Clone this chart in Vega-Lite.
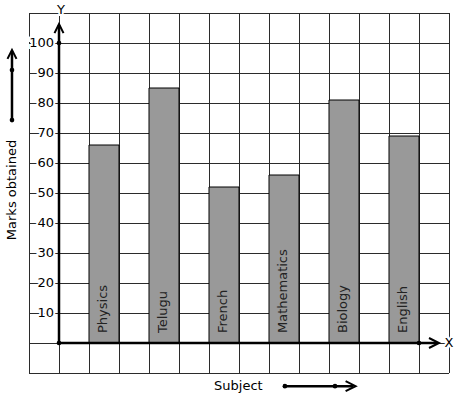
{
  "$schema": "https://vega.github.io/schema/vega-lite/v6.json",
  "width": 420,
  "height": 360,
  "autosize": {"type": "none"},
  "padding": {"left": 29, "top": 13, "right": 8, "bottom": 26},
  "config": {
    "font": "DejaVu Sans",
    "view": {"stroke": null},
    "axis": {"labels": false, "ticks": false, "domain": false, "grid": false, "title": null}
  },
  "datasets": {
    "marks": [
      {"subject": "Physics", "marks": 66},
      {"subject": "Telugu", "marks": 85},
      {"subject": "French", "marks": 52},
      {"subject": "Mathematics", "marks": 56},
      {"subject": "Biology", "marks": 81},
      {"subject": "English", "marks": 69}
    ],
    "ticks": [{"v": 10}, {"v": 20}, {"v": 30}, {"v": 40}, {"v": 50}, {"v": 60}, {"v": 70}, {"v": 80}, {"v": 90}, {"v": 100}],
    "xgrid": [{"g": -1}, {"g": 0}, {"g": 1}, {"g": 2}, {"g": 3}, {"g": 4}, {"g": 5}, {"g": 6}, {"g": 7}, {"g": 8}, {"g": 9}, {"g": 10}, {"g": 11}, {"g": 12}, {"g": 13}],
    "ygrid": [{"g": -10}, {"g": 0}, {"g": 10}, {"g": 20}, {"g": 30}, {"g": 40}, {"g": 50}, {"g": 60}, {"g": 70}, {"g": 80}, {"g": 90}, {"g": 100}, {"g": 110}],
    "one": [{}]
  },
  "layer": [
    {
      "layer": [
        {
          "data": {"name": "xgrid"},
          "mark": {"type": "rule", "color": "#2b2b2b", "strokeWidth": 1, "xOffset": 0.5},
          "encoding": {
            "x": {"field": "g", "type": "quantitative", "scale": {"domain": [-1, 13], "nice": false, "zero": false}, "axis": null},
            "y": {"datum": -10, "type": "quantitative", "scale": {"domain": [-10, 110], "nice": false, "zero": false}, "axis": null},
            "y2": {"datum": 110}
          }
        },
        {
          "data": {"name": "ygrid"},
          "mark": {"type": "rule", "color": "#2b2b2b", "strokeWidth": 1, "yOffset": 0.5},
          "encoding": {
            "x": {"datum": -1, "type": "quantitative"},
            "x2": {"datum": 13},
            "y": {"field": "g", "type": "quantitative"}
          }
        }
      ]
    },
    {
      "data": {"name": "marks"},
      "layer": [
        {
          "mark": {"type": "bar", "color": "#999999", "stroke": "#000000", "strokeWidth": 1, "cornerRadius": 0},
          "encoding": {
            "x": {"field": "subject", "type": "nominal", "sort": null, "axis": null,
                  "scale": {"type": "band", "paddingInner": 0.5, "paddingOuter": 0.75, "align": 0.6667}},
            "y": {"field": "marks", "type": "quantitative"},
            "y2": {"datum": 0}
          }
        },
        {
          "mark": {"type": "text", "angle": 270, "align": "left", "baseline": "middle", "dx": 10, "dy": -1, "fontSize": 13, "color": "#222222"},
          "encoding": {
            "x": {"field": "subject", "type": "nominal", "sort": null, "axis": null},
            "y": {"datum": 0, "type": "quantitative"},
            "text": {"field": "subject"}
          }
        }
      ]
    },
    {
      "data": {"name": "one"},
      "layer": [
        {
          "mark": {"type": "rule", "color": "#000000", "strokeWidth": 2.5},
          "encoding": {
            "x": {"datum": 0, "type": "quantitative", "scale": {"domain": [-1, 13], "nice": false, "zero": false}, "axis": null},
            "y": {"datum": 0, "type": "quantitative"},
            "y2": {"datum": 106}
          }
        },
        {
          "mark": {"type": "rule", "color": "#000000", "strokeWidth": 2.5},
          "encoding": {
            "x": {"datum": 0, "type": "quantitative"},
            "x2": {"datum": 12.6},
            "y": {"datum": 0, "type": "quantitative"}
          }
        },
        {
          "mark": {"type": "point", "shape": "circle", "filled": true, "color": "#000000", "size": 22, "opacity": 1},
          "encoding": {"x": {"datum": 0, "type": "quantitative"}, "y": {"datum": 0, "type": "quantitative"}}
        },
        {
          "mark": {"type": "point", "shape": "circle", "filled": true, "color": "#000000", "size": 22, "opacity": 1},
          "encoding": {"x": {"datum": 0, "type": "quantitative"}, "y": {"datum": 100, "type": "quantitative"}}
        },
        {
          "mark": {"type": "point", "shape": "circle", "filled": true, "color": "#000000", "size": 22, "opacity": 1},
          "encoding": {"x": {"datum": 12, "type": "quantitative"}, "y": {"datum": 0, "type": "quantitative"}}
        },
        {
          "mark": {"type": "point", "shape": "M-1,1L0,-1L1,1", "filled": false, "color": "#000000", "strokeWidth": 2, "size": 81, "opacity": 1},
          "encoding": {"x": {"datum": 0, "type": "quantitative"}, "y": {"datum": 104.8, "type": "quantitative"}}
        },
        {
          "mark": {"type": "point", "shape": "M-1,-1L1,0L-1,1", "filled": false, "color": "#000000", "strokeWidth": 2, "size": 100, "opacity": 1},
          "encoding": {"x": {"datum": 12.5, "type": "quantitative"}, "y": {"datum": 0, "type": "quantitative"}}
        },
        {
          "data": {"name": "ticks"},
          "mark": {"type": "text", "align": "right", "baseline": "middle", "dx": -5, "fontSize": 13, "stroke": "#ffffff", "strokeWidth": 4, "color": "#ffffff"},
          "encoding": {"x": {"datum": 0, "type": "quantitative"}, "y": {"field": "v", "type": "quantitative"}, "text": {"field": "v"}}
        },
        {
          "data": {"name": "ticks"},
          "mark": {"type": "text", "align": "right", "baseline": "middle", "dx": -5, "fontSize": 13, "color": "#000000"},
          "encoding": {"x": {"datum": 0, "type": "quantitative"}, "y": {"field": "v", "type": "quantitative"}, "text": {"field": "v"}}
        },
        {
          "mark": {"type": "text", "align": "center", "baseline": "middle", "dx": 2, "fontSize": 13, "stroke": "#ffffff", "strokeWidth": 4, "color": "#ffffff"},
          "encoding": {"x": {"datum": 0, "type": "quantitative"}, "y": {"datum": 111, "type": "quantitative"}, "text": {"value": "Y"}}
        },
        {
          "mark": {"type": "text", "align": "center", "baseline": "middle", "dx": 2, "fontSize": 13, "color": "#000000"},
          "encoding": {"x": {"datum": 0, "type": "quantitative"}, "y": {"datum": 111, "type": "quantitative"}, "text": {"value": "Y"}}
        },
        {
          "mark": {"type": "text", "align": "center", "baseline": "middle", "fontSize": 13, "stroke": "#ffffff", "strokeWidth": 4, "color": "#ffffff"},
          "encoding": {"x": {"datum": 13, "type": "quantitative"}, "y": {"datum": 0, "type": "quantitative"}, "text": {"value": "X"}}
        },
        {
          "mark": {"type": "text", "align": "center", "baseline": "middle", "fontSize": 13, "color": "#000000"},
          "encoding": {"x": {"datum": 13, "type": "quantitative"}, "y": {"datum": 0, "type": "quantitative"}, "text": {"value": "X"}}
        },
        {
          "mark": {"type": "text", "align": "center", "baseline": "middle", "angle": 270, "fontSize": 13, "color": "#000000"},
          "encoding": {"x": {"datum": -1.567, "type": "quantitative"}, "y": {"datum": 51, "type": "quantitative"}, "text": {"value": "Marks obtained"}}
        },
        {
          "mark": {"type": "rule", "color": "#000000", "strokeWidth": 2.5},
          "encoding": {"x": {"datum": -1.567, "type": "quantitative"}, "y": {"datum": 74.3, "type": "quantitative"}, "y2": {"datum": 97.3}}
        },
        {
          "mark": {"type": "point", "shape": "circle", "filled": true, "color": "#000000", "size": 22, "opacity": 1},
          "encoding": {"x": {"datum": -1.567, "type": "quantitative"}, "y": {"datum": 74.3, "type": "quantitative"}}
        },
        {
          "mark": {"type": "point", "shape": "circle", "filled": true, "color": "#000000", "size": 22, "opacity": 1},
          "encoding": {"x": {"datum": -1.567, "type": "quantitative"}, "y": {"datum": 91, "type": "quantitative"}}
        },
        {
          "mark": {"type": "point", "shape": "M-1,1L0,-1L1,1", "filled": false, "color": "#000000", "strokeWidth": 2, "size": 81, "opacity": 1},
          "encoding": {"x": {"datum": -1.567, "type": "quantitative"}, "y": {"datum": 96.2, "type": "quantitative"}}
        },
        {
          "mark": {"type": "text", "align": "center", "baseline": "middle", "fontSize": 13, "color": "#000000"},
          "encoding": {"x": {"datum": 5.98, "type": "quantitative"}, "y": {"datum": -14.2, "type": "quantitative"}, "text": {"value": "Subject"}}
        },
        {
          "mark": {"type": "rule", "color": "#000000", "strokeWidth": 2.5},
          "encoding": {"x": {"datum": 7.53, "type": "quantitative"}, "x2": {"datum": 9.8}, "y": {"datum": -14.4, "type": "quantitative"}}
        },
        {
          "mark": {"type": "point", "shape": "circle", "filled": true, "color": "#000000", "size": 22, "opacity": 1},
          "encoding": {"x": {"datum": 7.53, "type": "quantitative"}, "y": {"datum": -14.4, "type": "quantitative"}}
        },
        {
          "mark": {"type": "point", "shape": "circle", "filled": true, "color": "#000000", "size": 22, "opacity": 1},
          "encoding": {"x": {"datum": 9.2, "type": "quantitative"}, "y": {"datum": -14.4, "type": "quantitative"}}
        },
        {
          "mark": {"type": "point", "shape": "M-1,-1L1,0L-1,1", "filled": false, "color": "#000000", "strokeWidth": 2, "size": 100, "opacity": 1},
          "encoding": {"x": {"datum": 9.72, "type": "quantitative"}, "y": {"datum": -14.4, "type": "quantitative"}}
        }
      ]
    }
  ],
  "resolve": {"scale": {"x": "independent"}, "axis": {"x": "independent"}}
}
